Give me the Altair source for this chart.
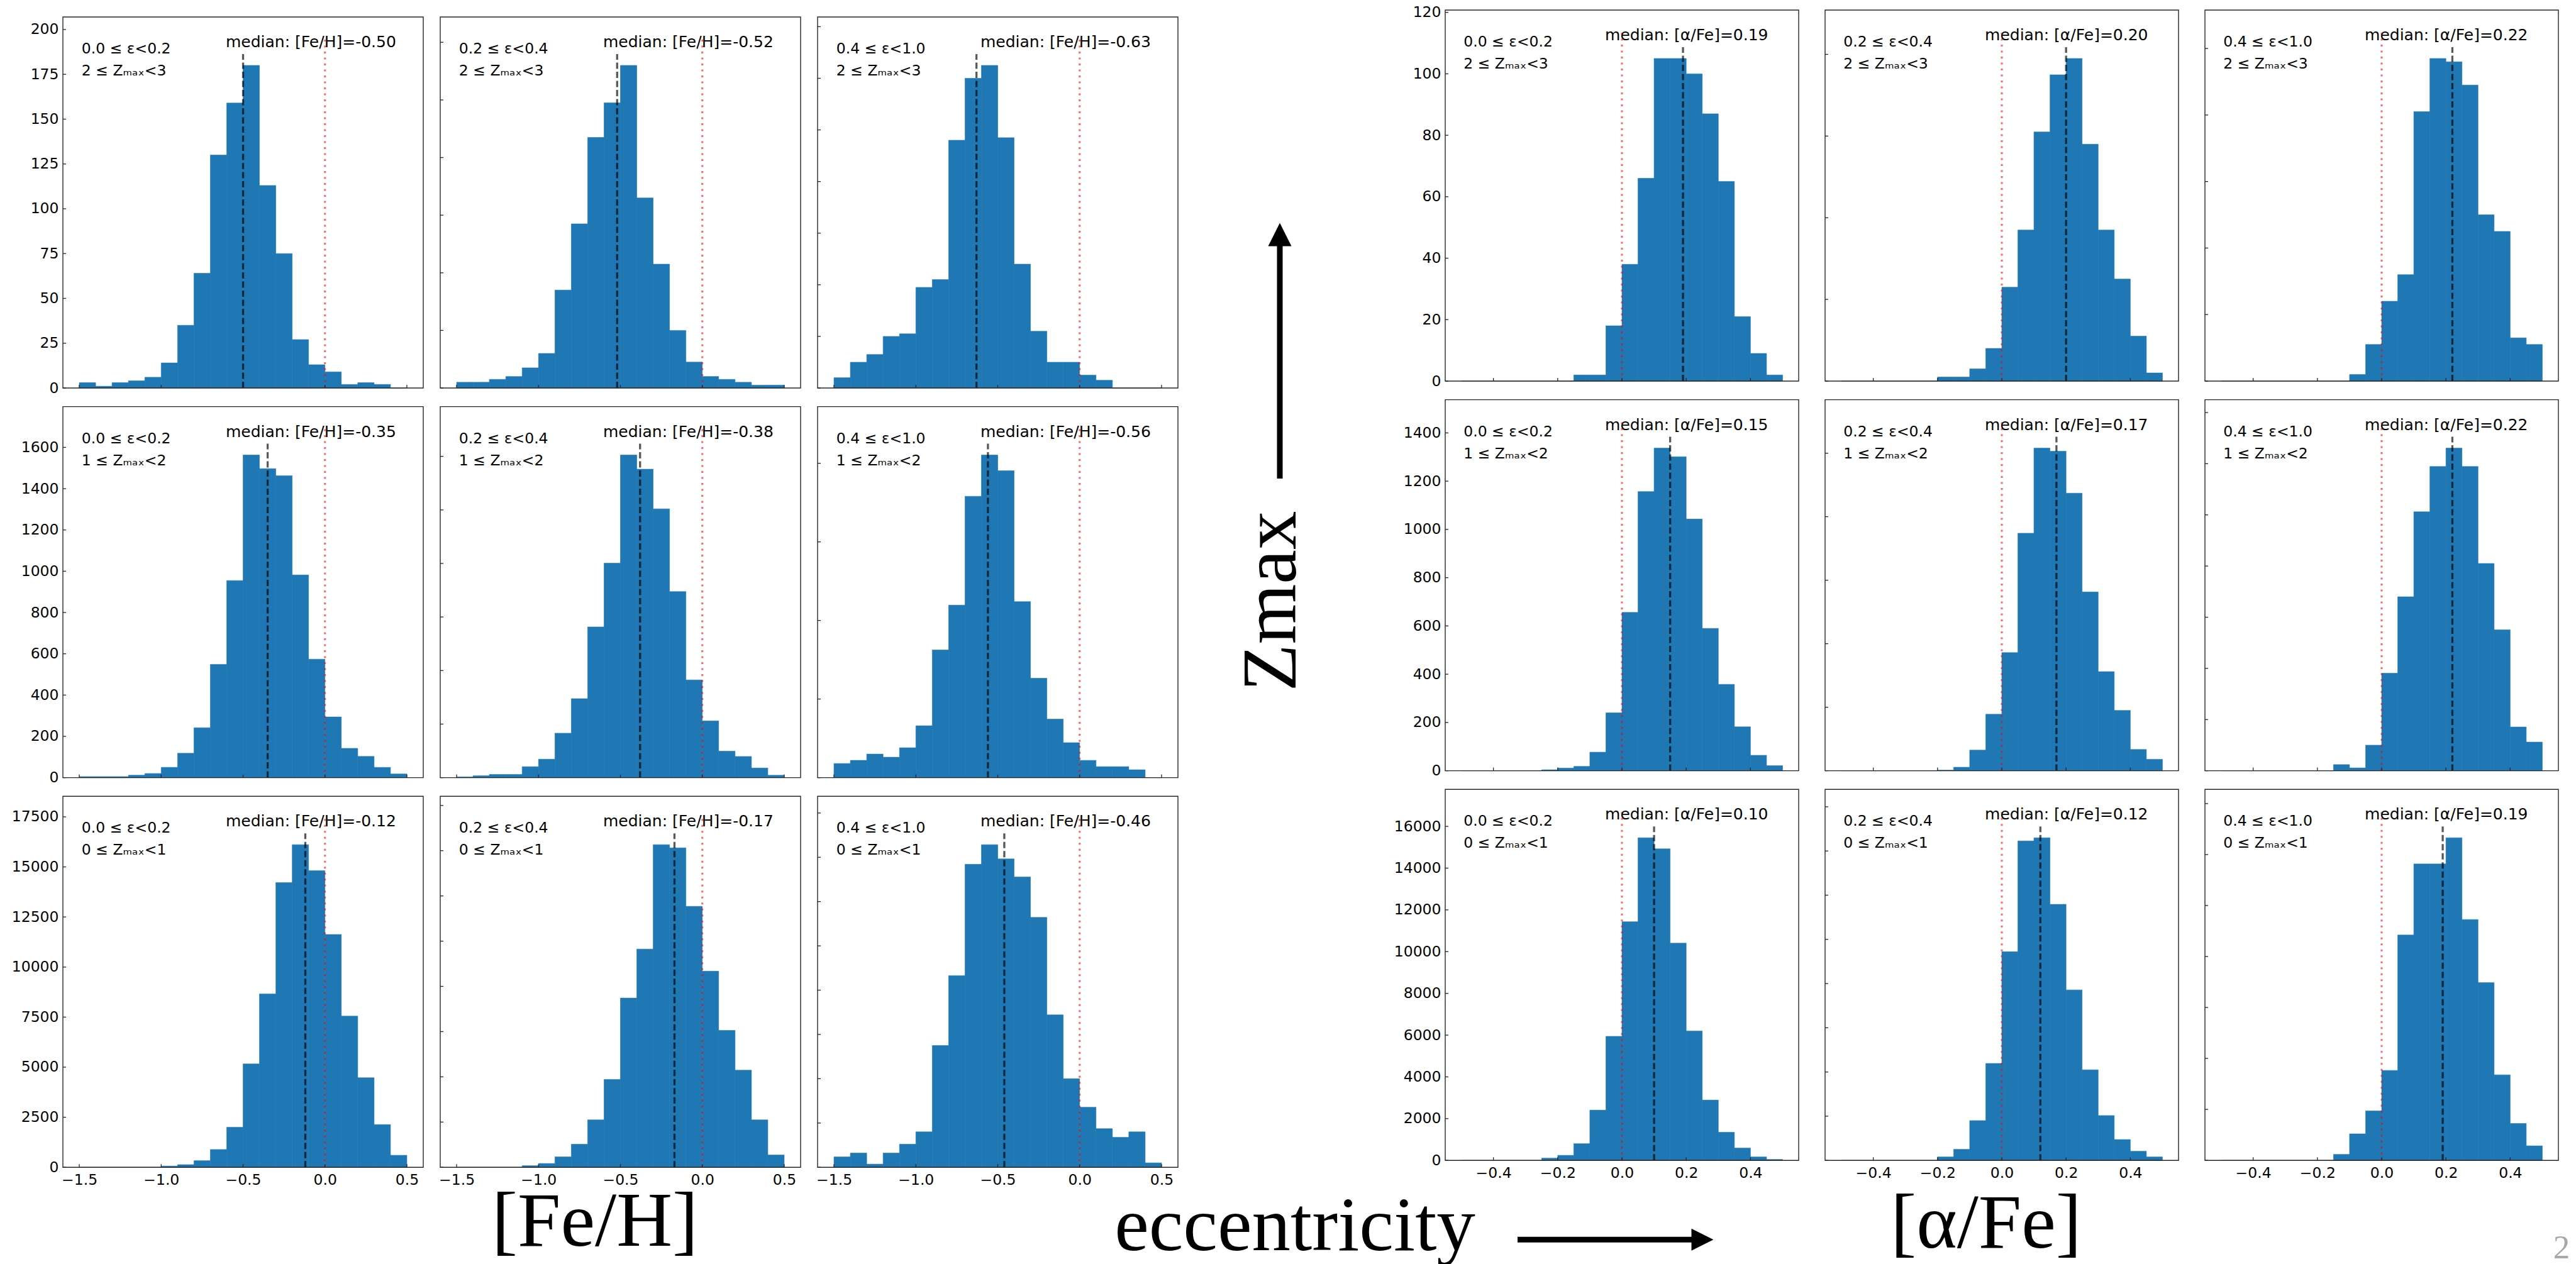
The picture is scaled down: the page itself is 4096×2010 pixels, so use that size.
import altair as alt
import pandas as pd

# ---------------------------------------------------------------- data
FEH_EDGES = [-1.5, -1.4, -1.3, -1.2, -1.1, -1.0, -0.9, -0.8, -0.7, -0.6, -0.5,
             -0.4, -0.3, -0.2, -0.1, 0.0, 0.1, 0.2, 0.3, 0.4, 0.5]
AFE_EDGES = [-0.5, -0.45, -0.4, -0.35, -0.3, -0.25, -0.2, -0.15, -0.1, -0.05, 0.0,
             0.05, 0.1, 0.15, 0.2, 0.25, 0.3, 0.35, 0.4, 0.45, 0.5]
FEH_XTICKS = [-1.5, -1.0, -0.5, 0.0, 0.5]
AFE_XTICKS = [-0.4, -0.2, 0.0, 0.2, 0.4]

ECC_LABELS = ["0.0 ≤ ε<0.2", "0.2 ≤ ε<0.4", "0.4 ≤ ε<1.0"]
ZMAX_LABELS = ["2 ≤ Zₘₐₓ<3", "1 ≤ Zₘₐₓ<2", "0 ≤ Zₘₐₓ<1"]   # top row first
SOLAR = 0.0

# [Fe/H] histograms: 2 <= Zmax < 3
feh_z23_e00 = [3, 1, 3, 4, 6, 14, 35, 64, 130, 159, 180, 113, 75, 27, 13, 9, 2, 3, 2, 0]
feh_z23_e02 = [2, 2, 3, 4, 7, 12, 34, 57, 87, 99, 112, 66, 43, 20, 9, 4, 3, 2, 1, 1]
feh_z23_e04 = [4, 10, 13, 20, 21, 39, 42, 96, 120, 125, 97, 48, 22, 10, 10, 5, 3, 0, 0, 0]
# 1 <= Zmax < 2
feh_z12_e00 = [5, 5, 5, 12, 20, 50, 118, 242, 549, 955, 1563, 1497, 1463, 982, 574, 294, 142, 103, 50, 18]
feh_z12_e02 = [3, 7, 12, 12, 41, 69, 166, 295, 563, 801, 1205, 1152, 1004, 695, 365, 212, 99, 79, 36, 9]
feh_z12_e04 = [36, 44, 60, 52, 76, 132, 325, 439, 716, 821, 781, 448, 253, 149, 89, 44, 28, 28, 20, 0]
# 0 <= Zmax < 1
feh_z01_e00 = [0, 0, 0, 0, 0, 61, 131, 331, 889, 2003, 5165, 8656, 14216, 16111, 14816, 11625, 7550, 4470, 2132, 600]
feh_z01_e02 = [0, 0, 0, 0, 70, 168, 462, 1021, 2098, 3888, 7483, 9650, 14266, 14126, 11538, 8671, 6056, 4294, 2098, 545]
feh_z01_e04 = [471, 643, 143, 643, 1043, 1600, 5500, 8657, 13685, 14571, 13928, 13114, 11285, 6885, 4000, 2714, 1743, 1357, 1600, 200]

FEH_MEDIAN_Z23 = [-0.50, -0.52, -0.63]
FEH_MEDIAN_Z12 = [-0.35, -0.38, -0.56]
FEH_MEDIAN_Z01 = [-0.12, -0.17, -0.46]

FEH_YSTEP_Z23 = [25, 20, 20]
FEH_YSTEP_Z12 = [200, 200, 200]
FEH_YSTEP_Z01 = [2500, 2000, 2000]

# [alpha/Fe] histograms: 2 <= Zmax < 3
afe_z23_e00 = [0, 0, 0, 0, 0, 0, 0, 2, 2, 18, 38, 66, 105, 105, 100, 87, 65, 21, 9, 2]
afe_z23_e02 = [0, 0, 0, 0, 0, 0, 1, 1, 3, 8, 23, 37, 61, 75, 79, 58, 37, 25, 11, 2]
afe_z23_e04 = [0, 0, 0, 0, 0, 0, 0, 0, 2, 11, 24, 32, 81, 97, 96, 89, 50, 45, 13, 11]
# 1 <= Zmax < 2
afe_z12_e00 = [0, 0, 0, 0, 0, 4, 11, 18, 77, 240, 656, 1157, 1337, 1301, 1043, 590, 358, 182, 64, 21]
afe_z12_e02 = [0, 0, 0, 0, 0, 0, 2, 11, 65, 178, 372, 748, 1016, 1006, 874, 563, 312, 190, 67, 36]
afe_z12_e04 = [0, 0, 0, 0, 0, 0, 0, 24, 11, 100, 381, 680, 1012, 1189, 1261, 1189, 810, 551, 171, 112]
# 0 <= Zmax < 1
afe_z01_e00 = [0, 0, 0, 0, 0, 106, 242, 801, 2405, 5943, 11433, 15456, 14926, 10405, 6200, 2888, 1346, 590, 166, 45]
afe_z01_e02 = [0, 0, 0, 0, 0, 0, 157, 500, 1800, 4386, 9443, 14457, 14600, 11586, 7714, 4100, 2029, 943, 414, 157]
afe_z01_e04 = [0, 0, 0, 0, 0, 0, 0, 235, 1041, 1945, 3530, 8844, 11631, 11631, 12660, 9451, 6974, 3357, 1449, 570]

AFE_MEDIAN_Z23 = [0.19, 0.20, 0.22]
AFE_MEDIAN_Z12 = [0.15, 0.17, 0.22]
AFE_MEDIAN_Z01 = [0.10, 0.12, 0.19]

AFE_YSTEP_Z23 = [20, 20, 20]
AFE_YSTEP_Z12 = [200, 200, 200]
AFE_YSTEP_Z01 = [2000, 2000, 2000]

FEH_ROWS = [[feh_z23_e00, feh_z23_e02, feh_z23_e04],
            [feh_z12_e00, feh_z12_e02, feh_z12_e04],
            [feh_z01_e00, feh_z01_e02, feh_z01_e04]]
FEH_MEDIANS = [FEH_MEDIAN_Z23, FEH_MEDIAN_Z12, FEH_MEDIAN_Z01]
FEH_YSTEPS = [FEH_YSTEP_Z23, FEH_YSTEP_Z12, FEH_YSTEP_Z01]
AFE_ROWS = [[afe_z23_e00, afe_z23_e02, afe_z23_e04],
            [afe_z12_e00, afe_z12_e02, afe_z12_e04],
            [afe_z01_e00, afe_z01_e02, afe_z01_e04]]
AFE_MEDIANS = [AFE_MEDIAN_Z23, AFE_MEDIAN_Z12, AFE_MEDIAN_Z01]
AFE_YSTEPS = [AFE_YSTEP_Z23, AFE_YSTEP_Z12, AFE_YSTEP_Z01]

FEH_NAME = "[Fe/H]"
AFE_NAME = "[α/Fe]"
ZMAX_TITLE = "Zmax"
ECC_TITLE = "eccentricity"
PAGE_NUMBER = "2"

# ---------------------------------------------------------------- style
BLUE = "#1f77b4"
FRAME = "#262626"
SANS = "DejaVu Sans"
SERIF = "Liberation Serif"
TICK_FS = 23.5
NOTE_FS = 23.5
MED_FS = 25
BIG_FS = 123
H = 590
LEFT_W = 573
RIGHT_W = 562
LEFT_GAP = 27
RIGHT_GAP = 42
MID_W = 425
ROW_GAP = 29.6
LEFT_DROP = 11          # the [Fe/H] block sits a little lower than the [alpha/Fe] block

blank = pd.DataFrame({"k": [0]})


def panel(edges, counts, median, name, ecc, zmax, ystep, xticks, xdomain,
          w, drop, first_col, last_row):
    """One histogram cell with median line, solar reference and labels."""
    top, bot = drop, H + drop
    ymax = 1.15 * max(counts)
    xs = alt.Scale(domain=xdomain, nice=False, zero=False)
    ys = alt.Scale(domain=[0, ymax], nice=False, zero=False, range=[bot, top])
    yticks = [k * ystep for k in range(int(ymax // ystep) + 1)]

    if last_row:
        xkw = dict(values=xticks, format=".1f", ticks=False, domain=False,
                   grid=False, title=None, labelFont=SANS, labelFontSize=TICK_FS,
                   labelColor="black", labelPadding=8.5, labelFlush=False,
                   labelOverlap=False)
        if drop:
            xkw["offset"] = drop
        xa = alt.Axis(**xkw)
    else:
        xa = None
    if first_col:
        ya = alt.Axis(values=yticks, format="d", ticks=False, domain=False,
                      grid=False, title=None, labelFont=SANS,
                      labelFontSize=TICK_FS, labelColor="black",
                      labelPadding=7, labelFlush=False, labelOverlap=False)
    else:
        ya = None

    bins = pd.DataFrame({"lo": edges[:-1], "hi": edges[1:], "n": counts,
                         "base": [0] * len(counts)})
    bars = alt.Chart(bins).mark_rect(color=BLUE, stroke=BLUE, strokeWidth=0.6).encode(
        x=alt.X("lo:Q", scale=xs, axis=xa),
        x2="hi:Q",
        y=alt.Y("n:Q", scale=ys, axis=ya),
        y2="base:Q",
    )
    sun = alt.Chart(pd.DataFrame({"s": [SOLAR]})).mark_rule(
        color="red", opacity=0.6, strokeWidth=3, strokeDash=[3, 6.5]
    ).encode(x=alt.X("s:Q", scale=xs, axis=xa),
             y=alt.value(bot), y2=alt.value(top + 0.05 * H))
    med = alt.Chart(pd.DataFrame({"m": [median]})).mark_rule(
        color="black", opacity=0.65, strokeWidth=3.3, strokeDash=[10, 4.5]
    ).encode(x=alt.X("m:Q", scale=xs, axis=xa),
             y=alt.value(bot), y2=alt.value(top + 0.1 * H))
    ytk = alt.Chart(pd.DataFrame({"v": yticks})).mark_rule(
        color=FRAME, strokeWidth=1.3
    ).encode(y=alt.Y("v:Q", scale=ys, axis=ya),
             x=alt.value(0), x2=alt.value(5))
    xtk = alt.Chart(pd.DataFrame({"v": xticks})).mark_rule(
        color=FRAME, strokeWidth=1.3
    ).encode(x=alt.X("v:Q", scale=xs, axis=xa),
             y=alt.value(bot), y2=alt.value(bot - 5))
    frame = alt.Chart(blank).mark_rect(
        filled=False, stroke=FRAME, strokeWidth=1.4
    ).encode(x=alt.value(0), x2=alt.value(w), y=alt.value(top), y2=alt.value(bot))

    def note(text, x, y, size):
        return alt.Chart(pd.DataFrame({"t": [text]})).mark_text(
            font=SANS, fontSize=size, color="black", align="left",
            baseline="middle"
        ).encode(text="t:N", x=alt.value(x), y=alt.value(y))

    t_ecc = note(ecc, 0.052 * w, top + 51, NOTE_FS)
    t_z = note(zmax, 0.052 * w, top + 86, NOTE_FS)
    t_med = note(f"median: {name}={median:.2f}", 0.452 * w, top + 40, MED_FS)

    return alt.layer(bars, sun, med, ytk, xtk, frame, t_ecc, t_z, t_med).properties(
        width=w, height=H)


def gap(w):
    return alt.Chart(blank).mark_point(opacity=0).encode(
        x=alt.value(0), y=alt.value(0)).properties(width=w, height=H)


def serif_text(text, x, y, size=BIG_FS, color="black", angle=0):
    kw = dict(font=SERIF, fontSize=size, align="center", baseline="alphabetic",
              color=color)
    if angle:
        kw["angle"] = angle
    return alt.Chart(pd.DataFrame({"t": [text]})).mark_text(**kw).encode(
        text="t:N", x=alt.value(x), y=alt.value(y))


def arrow_head(shape, size, x, y):
    return alt.Chart(blank).mark_point(
        shape=shape, size=size, filled=True, color="black", opacity=1
    ).encode(x=alt.value(x), y=alt.value(y))


# middle column, top row: "Zmax" with an upward arrow
mid_top = alt.layer(
    serif_text(ZMAX_TITLE, 187, 940, angle=270),
    alt.Chart(blank).mark_rule(color="black", strokeWidth=9).encode(
        x=alt.value(162), y=alt.value(745), y2=alt.value(370)),
    arrow_head("M0,-1L1,1L-1,1Z", 37 * 37, 162, 357),
).properties(width=MID_W, height=H)

mid_center = gap(MID_W)

# middle column, bottom row: axis names and the eccentricity arrow
mid_bottom = alt.layer(
    serif_text(FEH_NAME, -927, 726),
    serif_text(ECC_TITLE, 186, 733),
    serif_text(AFE_NAME, 1285, 729),
    serif_text(PAGE_NUMBER, 2200, 746, size=53, color="#a8a8a8"),
    alt.Chart(blank).mark_rule(color="black", strokeWidth=9).encode(
        x=alt.value(540), x2=alt.value(822), y=alt.value(716)),
    arrow_head("M1,0L-1,1L-1,-1Z", 35 * 35, 834, 716),
).properties(width=MID_W, height=H)
MIDDLE = [mid_top, mid_center, mid_bottom]

cells = []
for r in range(3):
    left = [panel(FEH_EDGES, FEH_ROWS[r][c], FEH_MEDIANS[r][c], FEH_NAME,
                  ECC_LABELS[c], ZMAX_LABELS[r], FEH_YSTEPS[r][c], FEH_XTICKS,
                  [-1.6, 0.6], LEFT_W, LEFT_DROP, c == 0, r == 2) for c in range(3)]
    right = [panel(AFE_EDGES, AFE_ROWS[r][c], AFE_MEDIANS[r][c], AFE_NAME,
                   ECC_LABELS[c], ZMAX_LABELS[r], AFE_YSTEPS[r][c], AFE_XTICKS,
                   [-0.55, 0.55], RIGHT_W, 0, c == 0, r == 2) for c in range(3)]
    cells += [left[0], gap(LEFT_GAP), left[1], gap(LEFT_GAP), left[2],
              MIDDLE[r],
              right[0], gap(RIGHT_GAP), right[1], gap(RIGHT_GAP), right[2]]

chart = alt.concat(
    *cells, columns=11, spacing={"row": ROW_GAP, "column": 0},
    bounds="flush", align="each",
).properties(
    padding={"left": 18, "top": 7, "right": 0, "bottom": 0},
    background="white",
).configure_view(strokeWidth=0)

chart.save("out.html", embed_options={"renderer": "svg", "actions": False})
